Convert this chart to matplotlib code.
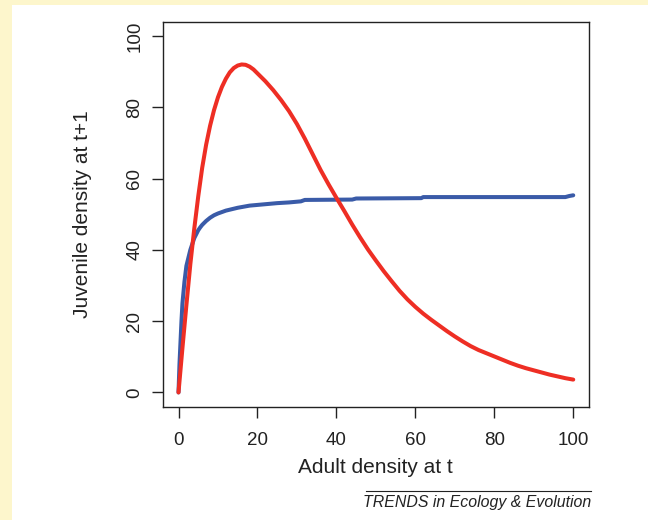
import matplotlib
matplotlib.use('Agg')
import matplotlib.pyplot as plt
from matplotlib.patches import Rectangle
from matplotlib.lines import Line2D

plt.rcParams['font.family'] = ['Liberation Sans', 'DejaVu Sans']

# values
adult_red = [0, 1, 2, 3, 4, 5, 6, 7, 8, 9, 10, 11, 12, 13, 14, 15, 16, 17, 18,
             19, 20, 22, 24, 26, 28, 30, 32, 34, 36, 38, 40, 42, 44, 46, 48, 50,
             52, 54, 56, 58, 60, 62, 64, 66, 68, 70, 72, 74, 76, 78, 80, 82, 84,
             86, 88, 90, 92, 94, 96, 98, 100]
juv_red = [0, 12.5, 24.5, 36, 46, 55, 63, 69.5, 74.8, 79.2, 82.8, 85.7, 88,
           89.8, 91, 91.7, 92, 91.9, 91.4, 90.6, 89.5, 87.3, 84.8, 82.0, 78.9,
           75.3, 71.2, 66.8, 62.4, 58.4, 54.6, 50.9, 47.1, 43.5, 40.1, 37.0,
           34.0, 31.2, 28.5, 26.1, 24.0, 22.1, 20.4, 18.8, 17.2, 15.7, 14.3,
           13.0, 11.9, 11.0, 10.1, 9.2, 8.3, 7.5, 6.8, 6.2, 5.6, 5.0, 4.5, 4.0, 3.6]

adult_blue = [0, 0.25, 0.5, 0.75, 1, 1.5, 2, 3, 4, 5, 5.5, 6, 7, 8, 9, 10, 12,
              15, 18, 22, 25, 28, 31, 32, 44, 45, 61.5, 62, 98, 99, 100]
juv_blue = [0, 8, 14, 20, 25, 31, 35.5, 40, 43.3, 45.5, 46.3, 47, 48.1, 49,
            49.7, 50.2, 51, 51.8, 52.4, 52.8, 53.1, 53.3, 53.6, 54.0, 54.1,
            54.4, 54.5, 54.8, 54.8, 55.1, 55.3]

ticks = [0, 20, 40, 60, 80, 100]

fig = plt.figure(figsize=(6.48, 5.2), dpi=100)
fig.patch.set_facecolor('white')
yellow = '#fdf6cc'
fig.patches.append(Rectangle((0, 0), 12 / 648, 1, transform=fig.transFigure,
                             facecolor=yellow, edgecolor='none', zorder=0))
fig.patches.append(Rectangle((0, 1 - 5 / 520), 1, 5 / 520, transform=fig.transFigure,
                             facecolor=yellow, edgecolor='none', zorder=0))

ax = fig.add_axes([0.2511, 0.2179, 0.6579, 0.7404])
ax.plot(adult_blue, juv_blue, color='#3a5ba8', lw=2.9,
        solid_capstyle='round', solid_joinstyle='round')
ax.plot(adult_red, juv_red, color='#ee2e24', lw=2.9,
        solid_capstyle='round', solid_joinstyle='round')

ax.set_xlim(-4, 104)
ax.set_ylim(-4, 104)
ax.set_xticks(ticks)
ax.set_yticks(ticks)
for s in ax.spines.values():
    s.set_linewidth(1.0)
    s.set_color('#222222')
ax.tick_params(direction='out', length=8, width=1.0, color='#222222',
               labelsize=13.5, labelcolor='#222222')
ax.tick_params(axis='x', pad=10)
ax.tick_params(axis='y', pad=6)
plt.setp(ax.get_yticklabels(), rotation=90, va='center')

ax.set_xlabel('Adult density at t', fontsize=15, color='#222222', labelpad=7)
ax.set_ylabel('Juvenile density at t+1', fontsize=15, color='#222222', labelpad=25)

fig.lines.append(Line2D([365.7 / 648, 591 / 648], [1 - 490.7 / 520] * 2,
                        transform=fig.transFigure, color='#222222', lw=0.8))
fig.text(591 / 648, 1 - 502 / 520, 'TRENDS in Ecology & Evolution', ha='right',
         va='center', fontsize=11.4, style='italic', color='#222222')

fig.savefig('out.png', dpi=100)
